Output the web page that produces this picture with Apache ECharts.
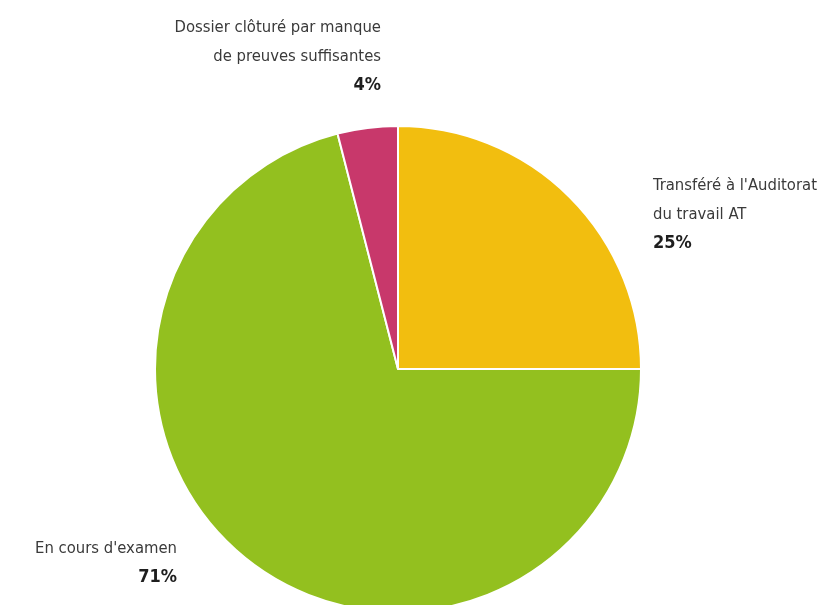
<!DOCTYPE html>
<html>
<head>
<meta charset="utf-8">
<script src="https://cdn.jsdelivr.net/npm/echarts@6/dist/echarts.min.js"></script>
<style>
  html, body { margin: 0; padding: 0; background: #fff; }
  #chart { width: 818px; height: 605px; }
</style>
</head>
<body>
<div id="chart"></div>
<script>
const labels = ["Transféré à l'Auditorat\ndu travail AT", "En cours d'examen", "Dossier clôturé par manque\nde preuves suffisantes"]
const values = [25, 71, 4]
const colors = ['#F2BE0F', '#93C01F', '#C8386B']

// label anchor per slice (x, y, align)
const labelPos = [
  { x: 653, y: 171, align: 'left' },
  { x: 177, y: 534, align: 'right' },
  { x: 381, y: 13, align: 'right' }
]

const chart = echarts.init(document.getElementById('chart'))
const FONT = '"DejaVu Sans Condensed", "Liberation Sans Narrow", sans-serif'

chart.setOption({
  animation: false,
  series: [
    {
      type: 'pie',
      center: [398, 369],
      radius: 243,
      startAngle: 90,
      clockwise: true,
      data: values.map((v, i) => ({
        value: v,
        name: labels[i],
        itemStyle: { color: colors[i] }
      })),
      itemStyle: { borderColor: '#fff', borderWidth: 2 },
      labelLine: { show: false },
      label: {
        show: true,
        position: 'outside',
        overflow: 'none',
        formatter: p => '{n|' + p.name + '}\n{v|' + p.value + '%}',
        rich: {
          n: { fontFamily: FONT, fontSize: 16.5, color: '#3a3a3a', lineHeight: 29 },
          v: { fontFamily: FONT, fontSize: 18, fontWeight: 'bold', color: '#1e1e1e', lineHeight: 29 }
        }
      },
      labelLayout: function (params) {
        const p = labelPos[params.dataIndex]
        return { x: p.x, y: p.y, align: p.align, verticalAlign: 'top' }
      }
    }
  ]
})
</script>
</body>
</html>
